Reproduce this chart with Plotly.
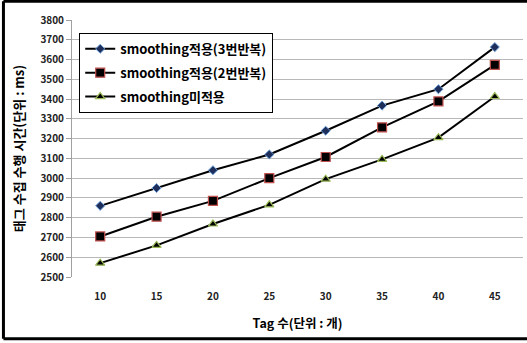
import plotly.graph_objects as go

# Tag counts (x categories) and measured collection times (ms)
tags = ["10", "15", "20", "25", "30", "35", "40", "45"]
smooth3 = [2860, 2950, 3040, 3120, 3240, 3367, 3450, 3663]
smooth2 = [2705, 2805, 2885, 3000, 3107, 3257, 3388, 3573]
no_smooth = [2570, 2660, 2768, 2865, 2995, 3095, 3205, 3413]

names = ["smoothing적용(3번반복)", "smoothing적용(2번반복)", "smoothing미적용"]
y_ticks = list(range(2500, 3801, 100))

FONT = "Noto Sans CJK KR"

fig = go.Figure()
fig.add_trace(go.Scatter(
    x=tags, y=smooth3, name=names[0], mode="lines+markers", legendgroup="a",
    line=dict(color="black", width=2),
    marker=dict(symbol="diamond", size=7, color="#1f2f5c",
                line=dict(color="#6fa0d8", width=1)),
))
fig.add_trace(go.Scatter(
    x=tags, y=smooth2, name=names[1], mode="lines+markers", legendgroup="b",
    line=dict(color="black", width=2),
    marker=dict(symbol="square", size=9, color="black",
                line=dict(color="#c0504d", width=1.2)),
))
fig.add_trace(go.Scatter(
    x=tags, y=no_smooth, name=names[2], mode="lines+markers", legendgroup="c",
    line=dict(color="black", width=2),
    marker=dict(symbol="triangle-up", size=8, color="black",
                line=dict(color="#9bbb59", width=1.2)),
))

# Outer frame: top, left and bottom edges
frame = dict(type="line", xref="paper", yref="paper",
             line=dict(color="black", width=3), layer="below")
fig.add_shape(x0=-0.152, x1=1.2, y0=1.073, y1=1.073, **frame)
fig.add_shape(x0=-0.152, x1=-0.152, y0=1.073, y1=-0.24, **frame)
fig.add_shape(x0=-0.152, x1=1.2, y0=-0.24, y1=-0.24, **frame)

fig.update_layout(
    width=527, height=343,
    margin=dict(l=72, r=4, t=20, b=66),
    paper_bgcolor="white", plot_bgcolor="white",
    font=dict(family=FONT, color="#222222"),
    showlegend=True,
    legend=dict(
        x=0.016, y=0.95, xanchor="left", yanchor="top",
        bgcolor="white", bordercolor="black", borderwidth=1,
        font=dict(family=FONT, size=13, color="black", weight="bold"),
        tracegroupgap=4, itemwidth=30,
    ),
    xaxis=dict(
        type="category", range=[-0.5, 7.5],
        showgrid=False, showline=False, ticks="",
        tickfont=dict(family=FONT, size=10, color="#222222", weight="bold"),
        ticklabelstandoff=12,
        title=dict(text="Tag 수(단위 : 개)", standoff=17,
                   font=dict(family=FONT, size=12.5, color="black", weight="bold")),
        zeroline=False,
    ),
    yaxis=dict(
        range=[2500, 3800], tickvals=y_ticks,
        showgrid=True, gridcolor="#b8b8b8", gridwidth=1,
        showline=True, linecolor="#a0a0a0", linewidth=1,
        ticks="outside", ticklen=5, tickcolor="#a0a0a0",
        tickfont=dict(family=FONT, size=10, color="#222222", weight="bold"),
        title=dict(text="태그 수집 수행 시간(단위 : ms)", standoff=12,
                   font=dict(family=FONT, size=13, color="black", weight="bold")),
        zeroline=False,
    ),
)

fig.write_html("out.html")
